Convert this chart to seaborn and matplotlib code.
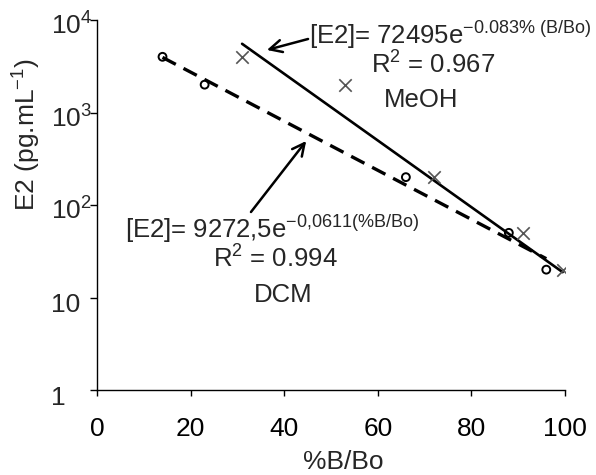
import numpy as np
import pandas as pd
import matplotlib
matplotlib.use("Agg")
import matplotlib.pyplot as plt
import matplotlib.transforms as mtransforms
import seaborn as sns

# Calibration points (%B/Bo vs E2 concentration)
dcm_x = [14, 23, 66, 88, 96]
dcm_y = [4000, 2000, 200, 50, 20]
meoh_x = [31, 53, 72, 91, 99.5]
meoh_y = [4000, 2000, 200, 50, 20]

# Exponential fits
dcm_a, dcm_b = 9272.5, -0.0611
meoh_a, meoh_b = 72495, -0.083

x_ticks = [0, 20, 40, 60, 80, 100]
y_ticks = [1, 10, 100, 1000, 10000]
y_tick_labels = ["1", "10", "10$^2$", "10$^3$", "10$^4$"]

sns.set_style("ticks")
plt.rcParams["font.family"] = ["Liberation Sans", "DejaVu Sans"]
plt.rcParams["mathtext.fontset"] = "custom"
plt.rcParams["mathtext.rm"] = "Liberation Sans"
plt.rcParams["mathtext.it"] = "Liberation Sans:italic"
plt.rcParams["mathtext.bf"] = "Liberation Sans:bold"

FS = 19      # axes text
FS_ANN = 18.5  # fit annotations

fig = plt.figure(figsize=(5.96, 4.75), dpi=100)
ax = fig.add_axes([97 / 596, 1 - 390 / 475, 468 / 596, 370 / 475])

dcm = pd.DataFrame({"x": dcm_x, "y": dcm_y})
meoh = pd.DataFrame({"x": meoh_x, "y": meoh_y})

xd = np.linspace(min(dcm_x), max(dcm_x), 200)
xm = np.linspace(min(meoh_x), max(meoh_x), 200)
fit_dcm = pd.DataFrame({"x": xd, "y": dcm_a * np.exp(dcm_b * xd)})
fit_meoh = pd.DataFrame({"x": xm, "y": meoh_a * np.exp(meoh_b * xm)})

sns.lineplot(data=fit_dcm, x="x", y="y", ax=ax, color="black", lw=2.4)
ax.lines[-1].set_dashes((4.5, 2.6))
sns.lineplot(data=fit_meoh, x="x", y="y", ax=ax, color="black", lw=1.9)

sns.scatterplot(data=dcm, x="x", y="y", ax=ax, marker="o", s=32,
                facecolor="none", edgecolor="black", linewidth=1.4, zorder=3)
sns.scatterplot(data=meoh, x="x", y="y", ax=ax, marker="x", s=80,
                color="#555555", linewidth=1.2, zorder=3)

ax.set_yscale("log")
ax.set_xlim(0, 100)
ax.set_ylim(1, 10000)
ax.set_xticks(x_ticks)
ax.set_xticklabels([str(t) for t in x_ticks], fontsize=FS)
ax.set_yticks(y_ticks)
ax.set_yticklabels([])
ax.yaxis.set_minor_locator(matplotlib.ticker.NullLocator())

ax.tick_params(axis="x", direction="out", length=4.5, width=1, pad=15, colors="black")
ax.tick_params(axis="y", direction="out", length=5, width=1, colors="black")
for side in ("top", "right"):
    ax.spines[side].set_visible(False)
for side in ("left", "bottom"):
    ax.spines[side].set_color("black")
    ax.spines[side].set_linewidth(1)

# Left-aligned y tick labels, baseline slightly below each tick
ytrans = mtransforms.offset_copy(ax.get_yaxis_transform(), fig=fig,
                                 x=0, y=-15, units="dots")
for val, lab in zip(y_ticks, y_tick_labels):
    ax.text(-0.0983, val, lab, transform=ytrans, fontsize=FS,
            ha="left", va="baseline", clip_on=False)

ax.set_xlabel("%B/Bo", fontsize=FS)
ax.set_ylabel("E2 (pg.mL$^{-1}$)", fontsize=FS)
ax.xaxis.set_label_coords(0.526, -0.163)
ax.yaxis.set_label_coords(-0.115, 0.69)

# MeOH fit annotation
ax.annotate("", xy=(36.3, 4740), xytext=(45.1, 6233),
            arrowprops=dict(arrowstyle="->", color="black", lw=1.8,
                            mutation_scale=22, shrinkA=0, shrinkB=0))
ax.text(45.3, 5508, r"[E2]= 72495e$^{\mathrm{-0.083\%\ (B/Bo)}}$",
        fontsize=FS_ANN, ha="left", va="baseline")
ax.text(71.8, 2606, "R$^2$ = 0.967", fontsize=FS_ANN, ha="center", va="baseline")
ax.text(69.2, 1146, "MeOH", fontsize=FS_ANN, ha="center", va="baseline")

# DCM fit annotation
ax.annotate("", xy=(44.7, 492), xytext=(32.9, 84),
            arrowprops=dict(arrowstyle="->", color="black", lw=1.8,
                            mutation_scale=22, shrinkA=0, shrinkB=0))
ax.text(6.0, 44, r"[E2]= 9272,5e$^{\mathrm{-0{,}0611(\%B/Bo)}}$",
        fontsize=FS_ANN, ha="left", va="baseline")
ax.text(38.2, 20.8, "R$^2$ = 0.994", fontsize=FS_ANN, ha="center", va="baseline")
ax.text(39.7, 8.9, "DCM", fontsize=FS_ANN, ha="center", va="baseline")

fig.savefig("out.png", dpi=100)
